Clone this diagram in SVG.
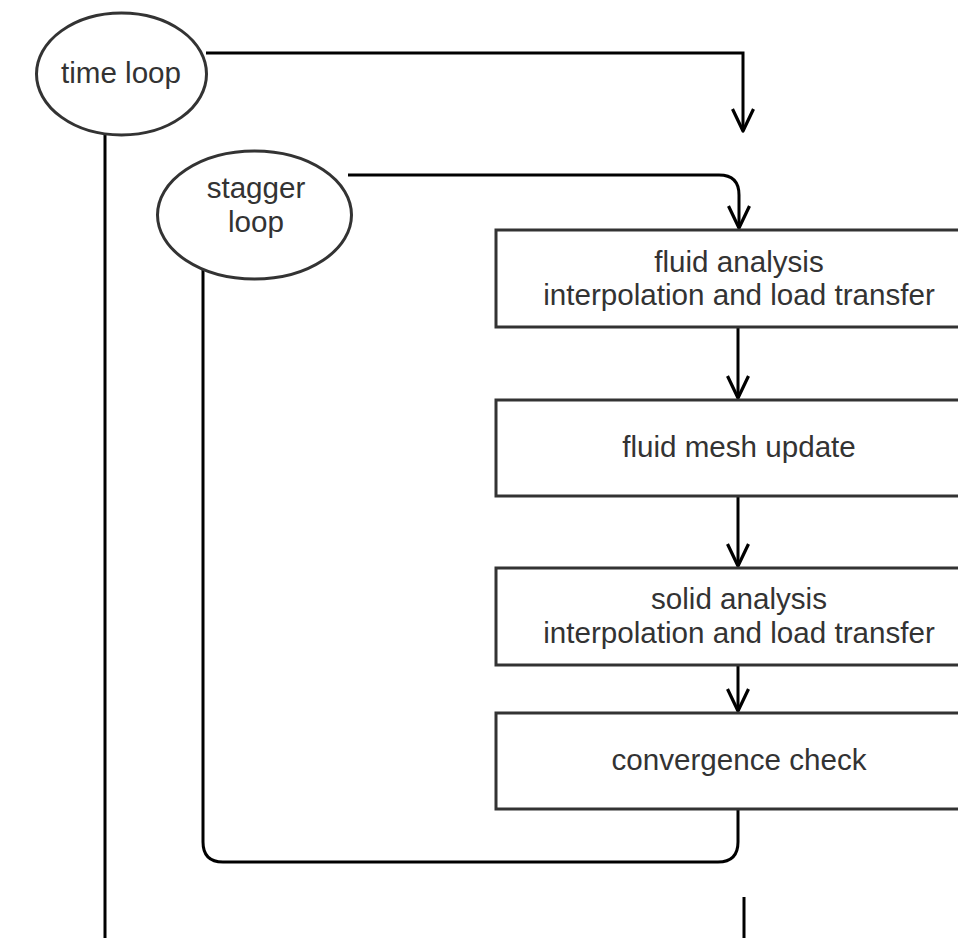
<svg xmlns="http://www.w3.org/2000/svg" width="958" height="938" viewBox="0 0 958 938">
<style>
  .node { fill: #fff; stroke: #333; stroke-width: 3; }
  .lbl { font-family: "Liberation Sans", Arial, sans-serif; font-size: 29.6px; fill: #333; text-anchor: middle; }
  .conn { fill: none; stroke: #000; stroke-width: 3; }
</style>
<defs>
  <marker id="arr" markerUnits="userSpaceOnUse" viewBox="-26 -13 30 26" markerWidth="30" markerHeight="26" refX="0" refY="0" orient="auto">
    <path d="M -22,-10.5 L 0,0 L -22,10.5" fill="none" stroke="#000" stroke-width="3.2" stroke-linejoin="round"/>
  </marker>
</defs>
<rect width="958" height="938" fill="#fff"/>
<g id="connectors">
  <path class="conn" d="M 206,53 L 743,53 L 743,131" marker-end="url(#arr)"/>
  <path class="conn" d="M 348,175 L 719,175 Q 739,175 739,195 L 739,228" marker-end="url(#arr)"/>
  <path class="conn" d="M 738,328 L 738,398" marker-end="url(#arr)"/>
  <path class="conn" d="M 738,497 L 738,566" marker-end="url(#arr)"/>
  <path class="conn" d="M 738,666 L 738,711" marker-end="url(#arr)"/>
  <path class="conn" d="M 738,810 L 738,842 Q 738,862 718,862 L 223,862 Q 203,862 203,842 L 203,267"/>
  <path class="conn" d="M 744,897 L 744,939.4 L 105,939.4 L 105,134"/>
</g>
<g id="time-loop">
  <ellipse class="node" cx="121.5" cy="74" rx="85" ry="61"/>
  <text class="lbl" x="121" y="83">time loop</text>
</g>
<g id="stagger-loop">
  <ellipse class="node" cx="254.5" cy="215" rx="97" ry="64"/>
  <text class="lbl" x="256" y="198">stagger</text>
  <text class="lbl" x="256" y="232">loop</text>
</g>
<g id="fluid-analysis">
  <rect class="node" x="496" y="230" width="486" height="97"/>
  <text class="lbl" x="739" y="272">fluid analysis</text>
  <text class="lbl" x="739" y="305">interpolation and load transfer</text>
</g>
<g id="fluid-mesh-update">
  <rect class="node" x="496" y="400" width="486" height="96"/>
  <text class="lbl" x="739" y="457">fluid mesh update</text>
</g>
<g id="solid-analysis">
  <rect class="node" x="496" y="568" width="486" height="97"/>
  <text class="lbl" x="739" y="609">solid analysis</text>
  <text class="lbl" x="739" y="643">interpolation and load transfer</text>
</g>
<g id="convergence-check">
  <rect class="node" x="496" y="713" width="486" height="96"/>
  <text class="lbl" x="739" y="770">convergence check</text>
</g>
</svg>
